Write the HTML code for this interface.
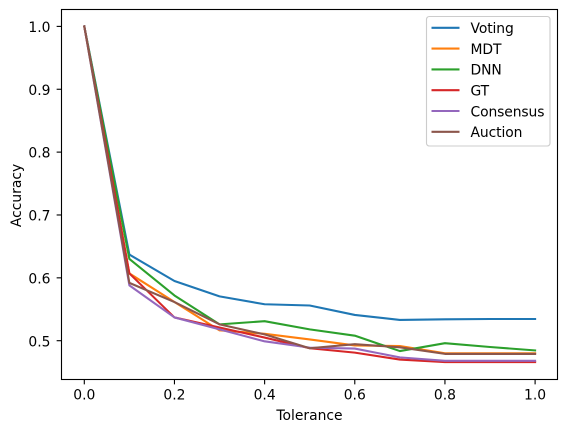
<!DOCTYPE html>
<html>
<head>
<meta charset="utf-8">
<style>
html,body{margin:0;padding:0;background:#fff;}
svg{display:block;}
text{font-family:"DejaVu Sans",sans-serif;font-size:13.89px;fill:#000;}
</style>
</head>
<body>
<svg id="chart" width="567" height="432" viewBox="0 0 567 432" xmlns="http://www.w3.org/2000/svg"></svg>
<script>
const tolerance = [0, 0.1, 0.2, 0.3, 0.4, 0.5, 0.6, 0.7, 0.8, 0.9, 1.0];
const voting = [1, 0.637, 0.595, 0.5705, 0.558, 0.556, 0.541, 0.533, 0.534, 0.5345, 0.5345];
const mdt = [1, 0.607, 0.5615, 0.5165, 0.511, 0.502, 0.4925, 0.4915, 0.48, 0.48, 0.48];
const dnn = [1, 0.63, 0.572, 0.526, 0.531, 0.518, 0.508, 0.4835, 0.496, 0.49, 0.4845];
const gt = [1, 0.607, 0.537, 0.521, 0.505, 0.488, 0.481, 0.47, 0.466, 0.466, 0.466];
const consensus = [1, 0.588, 0.537, 0.518, 0.499, 0.489, 0.4875, 0.4735, 0.468, 0.468, 0.468];
const auction = [1, 0.592, 0.5615, 0.526, 0.51, 0.488, 0.4945, 0.4895, 0.479, 0.479, 0.479];
const seriesNames = ["Voting", "MDT", "DNN", "GT", "Consensus", "Auction"];
const seriesValues = [voting, mdt, dnn, gt, consensus, auction];
const seriesColors = ["#1f77b4", "#ff7f0e", "#2ca02c", "#d62728", "#9467bd", "#8c564b"];
const xTickLabels = ["0.0", "0.2", "0.4", "0.6", "0.8", "1.0"];
const yTickLabels = ["0.5", "0.6", "0.7", "0.8", "0.9", "1.0"];

const NS = "http://www.w3.org/2000/svg";
const svg = document.getElementById("chart");
const plotLeft = 61.5, plotRight = 557.5, plotTop = 9.5, plotBottom = 379.5;
function xScale(v) { return 84.3 + v * 450.8; }
function yScale(v) { return 340.7 - (v - 0.5) * 628.6; }
function make(tag, attrs, parent) {
  const el = document.createElementNS(NS, tag);
  for (const k in attrs) el.setAttribute(k, attrs[k]);
  (parent || svg).appendChild(el);
  return el;
}

seriesValues.forEach(function (vals, i) {
  const pts = vals.map(function (v, j) {
    return xScale(tolerance[j]).toFixed(2) + "," + yScale(v).toFixed(2);
  }).join(" ");
  const line = make("polyline", { points: pts, fill: "none", stroke: seriesColors[i], "stroke-width": 2.08, "stroke-linejoin": "round", "stroke-linecap": "square" });
  
  
});

const frame = make("rect", { x: plotLeft, y: plotTop, width: plotRight - plotLeft, height: plotBottom - plotTop, fill: "none", stroke: "#000", "stroke-width": 1.11 });



xTickLabels.forEach(function (label) {
  const x = xScale(parseFloat(label));
  const tick = make("line", { x1: x, x2: x, y1: plotBottom, y2: plotBottom + 4.86, stroke: "#000", "stroke-width": 1.11 });
  
  
  const t = make("text", { x: x, y: 399.6, "text-anchor": "middle" });
  t.textContent = label;
  
  
});

yTickLabels.forEach(function (label) {
  const y = yScale(parseFloat(label));
  const tick = make("line", { x1: plotLeft - 4.86, x2: plotLeft, y1: y, y2: y, stroke: "#000", "stroke-width": 1.11 });
  
  
  const t = make("text", { x: 50.5, y: y + 5.6, "text-anchor": "end" });
  t.textContent = label;
  
  
});

const xTitle = make("text", { x: 309.5, y: 420, "text-anchor": "middle" });
xTitle.textContent = "Tolerance";



const yTitle = make("text", { x: 0, y: 0, "text-anchor": "middle", transform: "translate(21,195.5) rotate(-90)" });
yTitle.textContent = "Accuracy";



const legend = make("g", {});


const legendBox = make("rect", { x: 426.5, y: 16.5, width: 123.5, height: 129.5, rx: 2.8, ry: 2.8, fill: "#fff", "fill-opacity": 0.8, stroke: "#ccc", "stroke-width": 1.11 }, legend);


seriesNames.forEach(function (name, i) {
  const y = 27.8 + i * 20.8;
  const swatch = make("line", { x1: 431.5, x2: 459.5, y1: y, y2: y, stroke: seriesColors[i], "stroke-width": 2.08 }, legend);
  
  
  const t = make("text", { x: 470.5, y: y + 5.3, "letter-spacing": "-0.1" }, legend);
  t.textContent = name;
  
  
});
</script>
</body>
</html>
